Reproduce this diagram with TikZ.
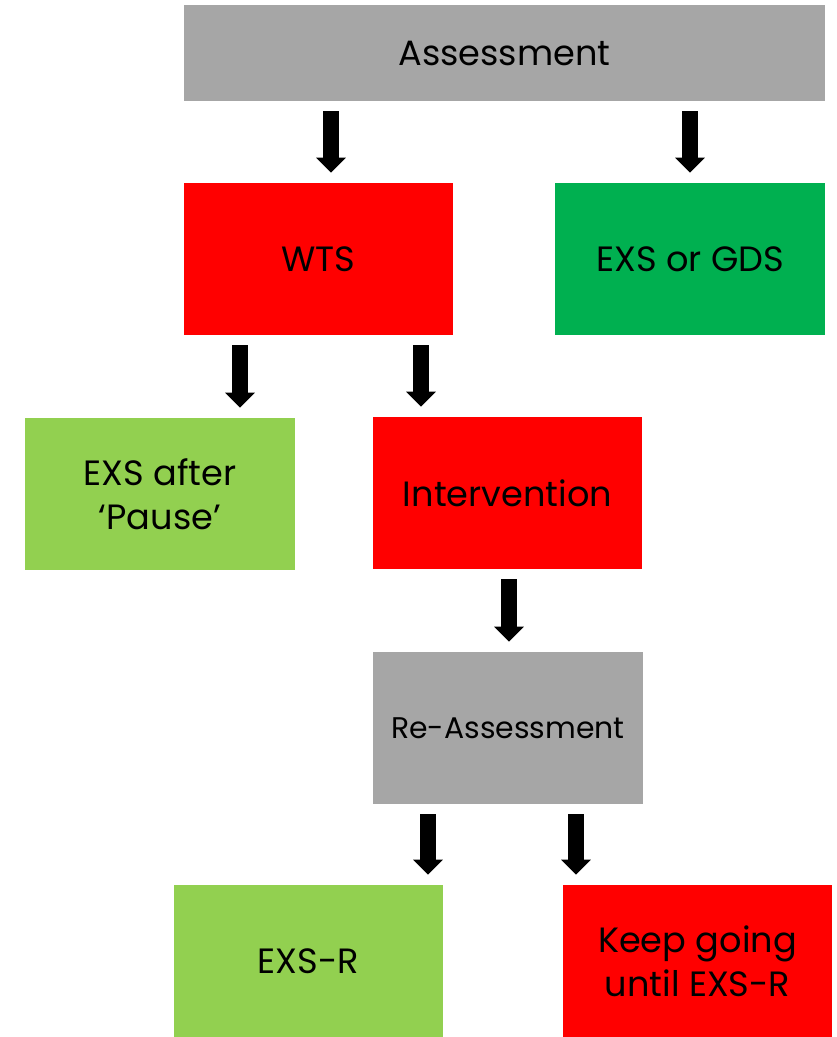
\documentclass[tikz,border=0pt]{standalone}
\usepackage{fontspec}
\setmainfont{Poppins}
\usepackage{xcolor}
\usetikzlibrary{arrows.meta}

\definecolor{boxgray}{HTML}{A6A6A6}
\definecolor{boxred}{HTML}{FF0000}
\definecolor{boxgreen}{HTML}{00B050}
\definecolor{boxlime}{HTML}{92D050}

\tikzset{
  stage/.style={rectangle, minimum width=5.4cm, minimum height=3.04cm, inner sep=0pt, align=center, font=\fontsize{20pt}{25pt}\selectfont},
  blockarrow/.style={line width=0.32cm, -{Triangle[length=0.3cm, width=0.58cm]}, shorten <=0.2cm, shorten >=0.2cm}
}

\begin{document}
\begin{tikzpicture}[x=0.02cm, y=-0.02cm]%
\useasboundingbox (0,0) rectangle (836,1037);%
\node[stage, fill=boxgray, minimum width=12.82cm, minimum height=1.92cm] (assess) at (504.5, 53) {Assessment};%
\node[stage, fill=boxred] (wts) at (318.5, 259) {WTS};%
\node[stage, fill=boxgreen] (exsgds) at (690, 259) {EXS or GDS};%
\node[stage, fill=boxlime] (pause) at (160, 494) {EXS after\\‘Pause’};%
\node[stage, fill=boxred] (interv) at (507.5, 493) {Intervention};%
\node[stage, fill=boxgray, font=\fontsize{17pt}{21pt}\selectfont] (reassess) at (508, 728) {Re-Assessment};%
\node[stage, fill=boxlime] (exsr) at (308.5, 961) {EXS-R};%
\node[stage, fill=boxred] (keep) at (697.5, 961) {Keep going\\until EXS-R};%
% arrows
\draw[blockarrow] (assess.south -| 331,0) -- (wts.north -| 331,0);%
\draw[blockarrow] (assess.south -| 690,0) -- (exsgds.north -| 690,0);%
\draw[blockarrow] (wts.south -| 240,0) -- (pause.north -| 240,0);%
\draw[blockarrow] (wts.south -| 421,0) -- (interv.north -| 421,0);%
\draw[blockarrow] (interv.south -| 509,0) -- (reassess.north -| 509,0);%
\draw[blockarrow] (reassess.south -| 428,0) -- (exsr.north -| 428,0);%
\draw[blockarrow] (reassess.south -| 576,0) -- (keep.north -| 576,0);%
\end{tikzpicture}
\end{document}
